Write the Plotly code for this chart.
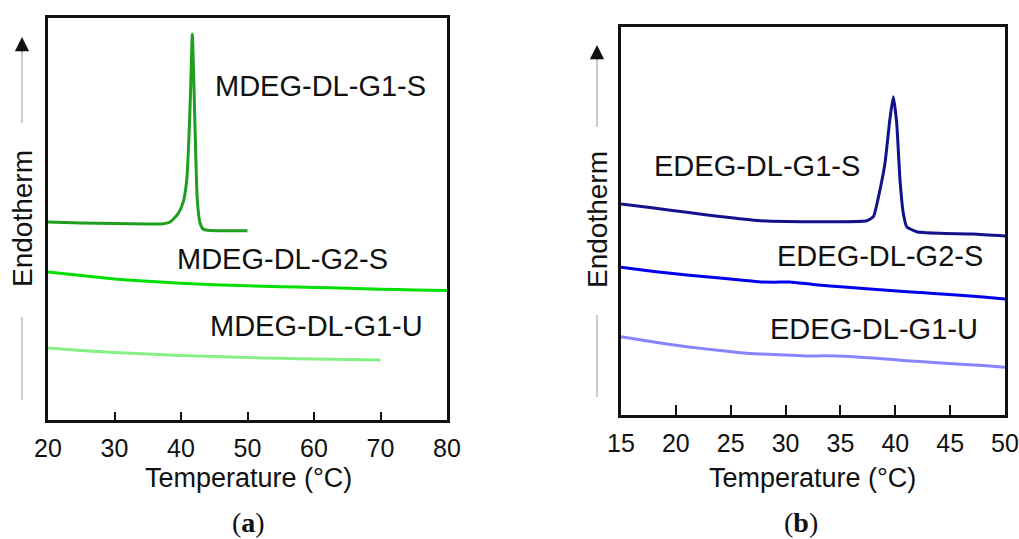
import plotly.graph_objects as go

W, H = 1019, 539

# ---------------- Data: panel (a) ----------------
a_xticks = [20, 30, 40, 50, 60, 70, 80]
a_g1s_T = [20, 25, 30, 35, 37, 38.35, 39.6, 40.35, 40.86, 41.2, 41.46, 41.7, 41.95, 42.21, 42.45, 42.86, 43.35, 44, 45.4, 50]
a_g1s_y = [198, 197, 196.5, 196, 196, 198, 206.7, 218.3, 240, 283.3, 333.3, 386, 333.3, 267, 220, 197, 190.7, 189.7, 189.3, 189.3]
a_g2s_T = [20, 25, 30, 35, 40, 45, 50, 55, 60, 65, 70, 75, 80]
a_g2s_y = [148, 144.5, 141, 138.7, 136.8, 135.2, 134.2, 133.3, 132.5, 131.8, 130.8, 130, 129.5]
a_g1u_T = [20, 25, 30, 35, 40, 45, 50, 55, 60, 65, 70]
a_g1u_y = [72, 69.5, 67.5, 66, 64.5, 63.5, 62.5, 61.7, 61, 60.4, 60]
a_labels = ["MDEG-DL-G1-S", "MDEG-DL-G2-S", "MDEG-DL-G1-U"]

# ---------------- Data: panel (b) ----------------
b_xticks = [15, 20, 25, 30, 35, 40, 45, 50]
b_g1s_T = [15, 18, 21, 24, 27.7, 30, 33, 35, 37.4, 38.0, 38.6, 39.06, 39.5, 39.82, 40.13, 40.43, 40.73, 41.04, 41.95, 44.08, 47.1, 50]
b_g1s_y = [211, 207, 202.7, 198.5, 194.3, 193.5, 193.3, 193.3, 194.3, 198.3, 225, 251.7, 295, 318.3, 291.7, 235, 201.7, 188.3, 183.3, 181.7, 181, 179]
b_g2s_T = [15, 18, 21, 24, 25.9, 27.7, 29, 30.4, 32.5, 35, 38, 41.1, 43.5, 45.6, 48, 50]
b_g2s_y = [147.7, 143.5, 140, 137, 135, 133, 132.8, 133, 130.5, 128.3, 125.8, 123.3, 121.5, 120, 118, 116]
b_g1u_T = [15, 18, 21, 24, 25.85, 27.7, 30, 31.9, 33.5, 35.9, 38.5, 41, 43.5, 45.6, 48, 50]
b_g1u_y = [78.3, 73, 68.3, 64.5, 62.3, 61, 60, 59, 59.2, 58.5, 56.5, 54.3, 52.5, 51, 49.5, 47.7]
b_labels = ["EDEG-DL-G1-S", "EDEG-DL-G2-S", "EDEG-DL-G1-U"]

a_colors = ["#1f9f1f", "#00e000", "#85f085"]
b_colors = ["#12128c", "#0000ee", "#8585ff"]

SANS = "Arial, 'Liberation Sans', sans-serif"
SERIF = "'Liberation Serif', 'DejaVu Serif', serif"

fig = go.Figure()

def add_line(T, y, color, xa, ya):
    fig.add_trace(go.Scatter(x=T, y=y, mode="lines",
                             line=dict(color=color, width=3, shape="spline", smoothing=0.5),
                             xaxis=xa, yaxis=ya, showlegend=False, hoverinfo="skip"))

add_line(a_g1s_T, a_g1s_y, a_colors[0], "x", "y")
add_line(a_g2s_T, a_g2s_y, a_colors[1], "x", "y")
add_line(a_g1u_T, a_g1u_y, a_colors[2], "x", "y")
add_line(b_g1s_T, b_g1s_y, b_colors[0], "x2", "y2")
add_line(b_g2s_T, b_g2s_y, b_colors[1], "x2", "y2")
add_line(b_g1u_T, b_g1u_y, b_colors[2], "x2", "y2")

def px(x):
    return x / W

def py(y):
    return 1 - y / H

xcommon = dict(showline=True, linewidth=2.5, linecolor="#111", mirror=True, automargin=False,
               ticks="inside", tickwidth=2, tickcolor="#111", showgrid=False, zeroline=False,
               tickfont=dict(family=SANS, size=25, color="#111"), ticklabelstandoff=4)
ycommon = dict(showline=True, linewidth=2.5, linecolor="#111", mirror=True, automargin=False,
               showticklabels=False, ticks="", showgrid=False, zeroline=False)

fig.update_layout(
    width=W, height=H, margin=dict(l=0, r=0, t=0, b=0, autoexpand=False),
    paper_bgcolor="white", plot_bgcolor="white",
    xaxis=dict(domain=[px(48), px(447)], range=[20, 80], tickvals=a_xticks, ticklen=8, anchor="y", **xcommon),
    yaxis=dict(domain=[py(420), py(18)], range=[0, 402], anchor="x", **ycommon),
    xaxis2=dict(domain=[px(621), px(1005)], range=[15, 50], tickvals=b_xticks, ticklen=10, anchor="y2", **xcommon),
    yaxis2=dict(domain=[py(415), py(27)], range=[0, 388], anchor="x2", **ycommon),
)

ann = []
# curve labels
for txt, (x, y) in zip(a_labels, [(61.0, 334.5), (55.2, 161), (60.3, 94)]):
    ann.append(dict(x=x, y=y, xref="x", yref="y", text=txt, showarrow=False,
                    font=dict(family=SANS, size=29, color="#111"), xanchor="center", yanchor="middle"))
for txt, (x, y) in zip(b_labels, [(27.4, 249), (38.6, 159), (38.06, 86)]):
    ann.append(dict(x=x, y=y, xref="x2", yref="y2", text=txt, showarrow=False,
                    font=dict(family=SANS, size=29, color="#111"), xanchor="center", yanchor="middle"))

# axis titles
for xc in (248, 812):
    ann.append(dict(x=px(xc), y=py(478), xref="paper", yref="paper", text="Temperature (°C)",
                    showarrow=False, font=dict(family=SANS, size=27, color="#111"),
                    xanchor="center", yanchor="middle"))
# panel letters
ann.append(dict(x=px(248), y=py(522), xref="paper", yref="paper", text="(<b>a</b>)", showarrow=False,
                font=dict(family=SERIF, size=28, color="#111"), xanchor="center", yanchor="middle"))
ann.append(dict(x=px(801), y=py(522), xref="paper", yref="paper", text="(<b>b</b>)", showarrow=False,
                font=dict(family=SERIF, size=28, color="#111"), xanchor="center", yanchor="middle"))

shapes = []
# Endotherm labels with arrows
for xc, yc, top_tip, top_bot, low_top, low_bot in [(22, 219, 37, 123, 317, 400), (597, 220, 45, 127, 315, 397)]:
    ann.append(dict(x=px(xc), y=py(yc), xref="paper", yref="paper", text="Endotherm", textangle=-90,
                    showarrow=False, font=dict(family=SANS, size=28, color="#111"),
                    xanchor="center", yanchor="middle"))
    shapes.append(dict(type="line", xref="paper", yref="paper", x0=px(xc), x1=px(xc),
                       y0=py(top_bot), y1=py(top_tip + 8), line=dict(color="#b0b0b0", width=1.3)))
    shapes.append(dict(type="line", xref="paper", yref="paper", x0=px(xc), x1=px(xc),
                       y0=py(low_top), y1=py(low_bot), line=dict(color="#b0b0b0", width=1.3)))
    ann.append(dict(x=px(xc), y=py(top_tip), xref="paper", yref="paper", text="", showarrow=True,
                    ax=0, ay=16, arrowhead=2, arrowsize=2.2, arrowwidth=1.3, arrowcolor="#111"))

fig.update_layout(annotations=ann, shapes=shapes)

fig.write_html("out.html")
